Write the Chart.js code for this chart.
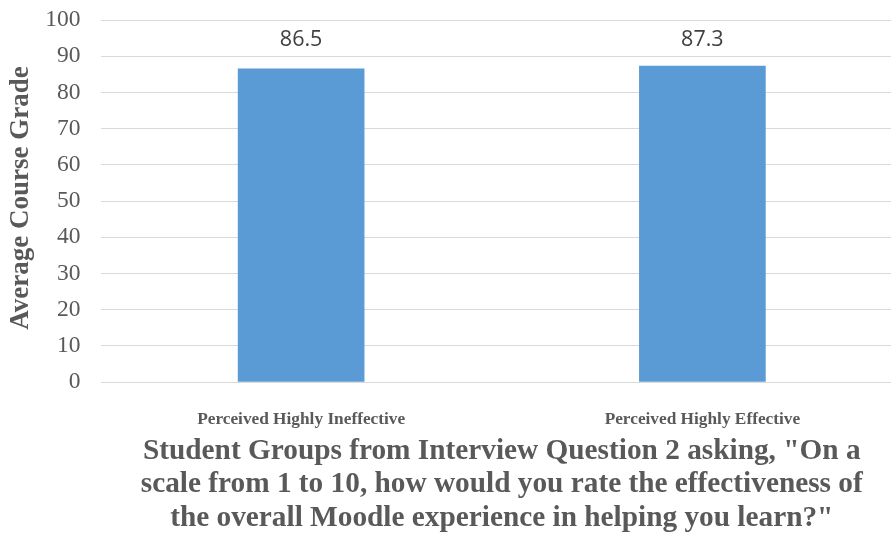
<!DOCTYPE html>
<html>
<head>
<meta charset="utf-8">
<script src="https://cdn.jsdelivr.net/npm/chart.js"></script>
<style>
  html, body { margin: 0; padding: 0; background: #fff; overflow: hidden; }
  #wrap { position: relative; width: 903px; height: 537px; }
</style>
</head>
<body>
<div id="wrap"><canvas id="grades-chart"></canvas></div>
<script>
    const groups = ['Perceived Highly Ineffective', 'Perceived Highly Effective'];
    const avgGrade = [86.5, 87.3];
    const yTicks = [0, 10, 20, 30, 40, 50, 60, 70, 80, 90, 100];
    const xTitle = [
        'Student Groups from Interview Question 2 asking, "On a',
        'scale from 1 to 10, how would you rate the effectiveness of',
        'the overall Moodle experience in helping you learn?"'
    ];
    const yTitle = 'Average Course Grade';

    const grey = '#595959';
    const serif = '"Liberation Serif", "Times New Roman", serif';

    // value labels above the bars, both axis titles
    const extras = {
        id: 'extras',
        afterDatasetsDraw(chart) {
            const c = chart.ctx;
            const area = chart.chartArea;
            c.save();
            c.fillStyle = '#404040';
            c.font = '21.5px "Open Sans", sans-serif';
            c.textAlign = 'center';
            c.textBaseline = 'middle';
            chart.getDatasetMeta(0).data.forEach((bar, i) => {
                c.fillText(avgGrade[i].toFixed(1), bar.x, 40);
            });
            c.fillStyle = grey;
            c.font = 'bold 29.3px ' + serif;
            const cx = (area.left + area.right) / 2;
            xTitle.forEach((line, i) => c.fillText(line, cx, 451 + i * 33.5));
            c.translate(21, (area.top + area.bottom) / 2 - 3);
            c.rotate(-Math.PI / 2);
            c.font = 'bold 27px ' + serif;
            c.fillText(yTitle, 0, 0);
            c.restore();
        }
    };

    const ctx = document.getElementById('grades-chart').getContext('2d');
    new Chart(ctx, {
        type: 'bar',
        data: {
            labels: groups,
            datasets: [{
                data: avgGrade,
                backgroundColor: '#5b9bd5',
                barThickness: 126,
            }]
        },
        options: {
            responsive: true,
            maintainAspectRatio: false,
            animation: false,
            layout: { padding: { top: 20, right: 0, left: 0, bottom: 0 } },
            plugins: { legend: { display: false }, tooltip: { enabled: false } },
            scales: {
                x: {
                    grid: { display: false },
                    border: { display: false },
                    ticks: {
                        color: grey,
                        font: { family: serif, size: 17.3, weight: 'bold' },
                        padding: 19,
                        maxRotation: 0,
                    },
                    afterFit(scale) { scale.height = 155; }
                },
                y: {
                    min: 0,
                    max: 100,
                    afterBuildTicks(scale) { scale.ticks = yTicks.map(v => ({ value: v })); },
                    grid: { color: '#d9d9d9', lineWidth: 1, drawTicks: false },
                    border: { display: false },
                    ticks: {
                        color: grey,
                        font: { family: serif, size: 23.5 },
                        padding: 20,
                    },
                    afterFit(scale) {
                        scale.width = 100.5;
                        scale.paddingTop = 0;
                        scale.paddingBottom = 0;
                    }
                }
            }
        },
        plugins: [extras]
    });
</script>
</body>
</html>
